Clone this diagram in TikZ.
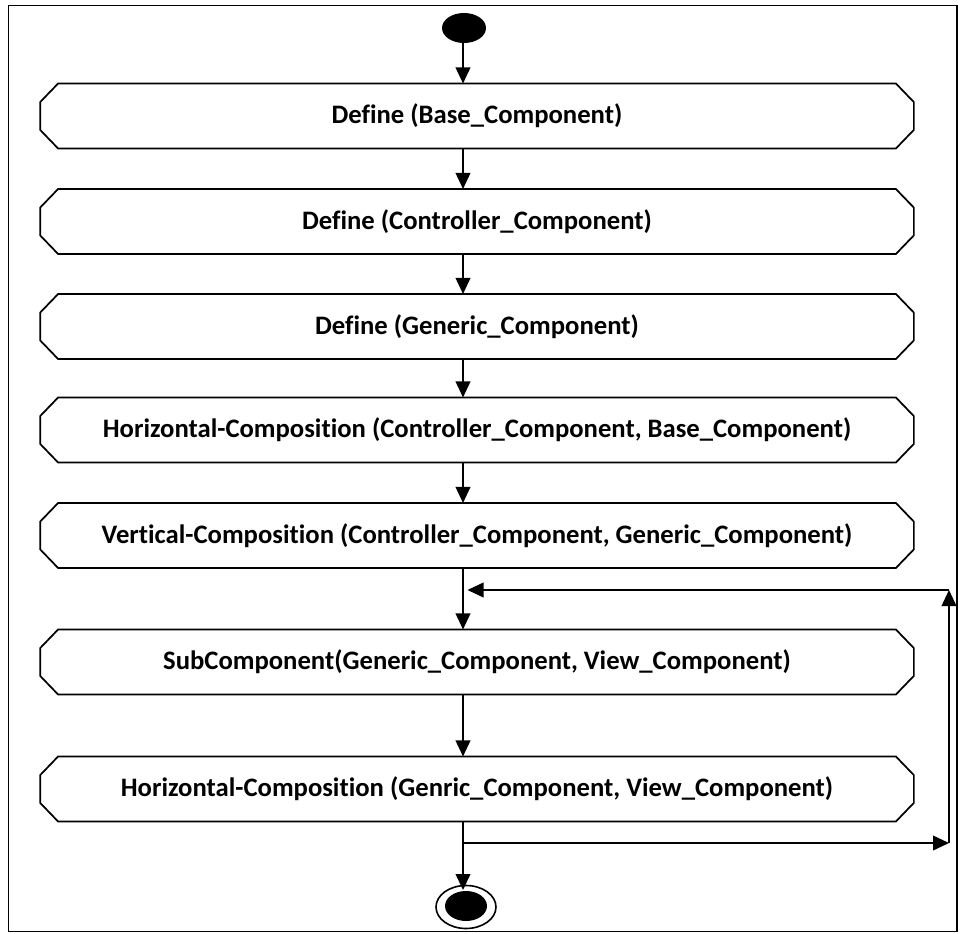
\documentclass[tikz,border=0pt]{standalone}
\usepackage{fontspec}
\setmainfont{Carlito}[Ligatures=CommonOff]
\usetikzlibrary{arrows.meta}

\begin{document}
\begin{tikzpicture}[x=0.75pt,y=-0.75pt,
  line width=1.3pt,
  actbox/.style={rectangle, minimum width=654pt, minimum height=47.5pt,
    inner sep=0pt, font=\fontsize{20}{24}\selectfont\bfseries},
  arr/.style={-{Triangle[length=12pt,width=11pt]}, line width=1.3pt}]

  % page frame and bounding box
  \useasboundingbox (0,0) rectangle (960,934);
  \draw[line width=1.2pt] (8.5,5.5) rectangle (957,931.5);

  % control-flow spine
  \coordinate (spine) at (463,0);

  % initial node
  \fill (464,28) ellipse [x radius=22, y radius=15];
  \coordinate (init) at (463,43);

  % actions
  \node[actbox] (b1) at (477,116)   {Define (Base\_Component)};
  \node[actbox] (b2) at (477,221.5) {Define (Controller\_Component)};
  \node[actbox] (b3) at (477,326.5) {Define (Generic\_Component)};
  \node[actbox] (b4) at (477,430)   {Horizontal-Composition (Controller\_Component, Base\_Component)};
  \node[actbox] (b5) at (477,535.5) {Vertical-Composition (Controller\_Component, Generic\_Component)};
  \node[actbox] (b6) at (477,662)   {SubComponent(Generic\_Component, View\_Component)};
  \node[actbox] (b7) at (477,789)   {Horizontal-Composition (Genric\_Component, View\_Component)};

  % chamfered outlines of the actions
  \foreach \b in {b1,b2,b3,b4,b5,b6,b7}
    \draw ([xshift=13.5pt]\b.north west) -- ([xshift=-13.5pt]\b.north east)
      -- ([yshift=-14pt]\b.north east) -- ([yshift=14pt]\b.south east)
      -- ([xshift=-13.5pt]\b.south east) -- ([xshift=13.5pt]\b.south west)
      -- ([yshift=14pt]\b.south west) -- ([yshift=-14pt]\b.north west) -- cycle;

  % final node
  \draw[line width=1.2pt] (466,907) ellipse [x radius=30, y radius=21.5];
  \fill (466,906) ellipse [x radius=21, y radius=15];
  \coordinate (final) at (463,890);

  % sequential flow
  \draw[arr] (init) -- (b1.north -| spine);
  \draw[arr] (b1.south -| spine) -- (b2.north -| spine);
  \draw[arr] (b2.south -| spine) -- (b3.north -| spine);
  \draw[arr] (b3.south -| spine) -- (b4.north -| spine);
  \draw[arr] (b4.south -| spine) -- (b5.north -| spine);
  \draw[arr] (b5.south -| spine) -- (b6.north -| spine);
  \draw[arr] (b6.south -| spine) -- (b7.north -| spine);
  \draw[arr] (b7.south -| spine) -- (final);

  % loop back
  \coordinate (fork) at (463,843);
  \coordinate (loopR) at (949,843);
  \coordinate (loopT) at (949,590);
  \coordinate (join) at (467.5,590);
  \draw[arr] (fork) -- (loopR);
  \draw[arr] (loopR) -- (loopT);
  \draw[arr] (loopT) -- (join);
\end{tikzpicture}
\end{document}
